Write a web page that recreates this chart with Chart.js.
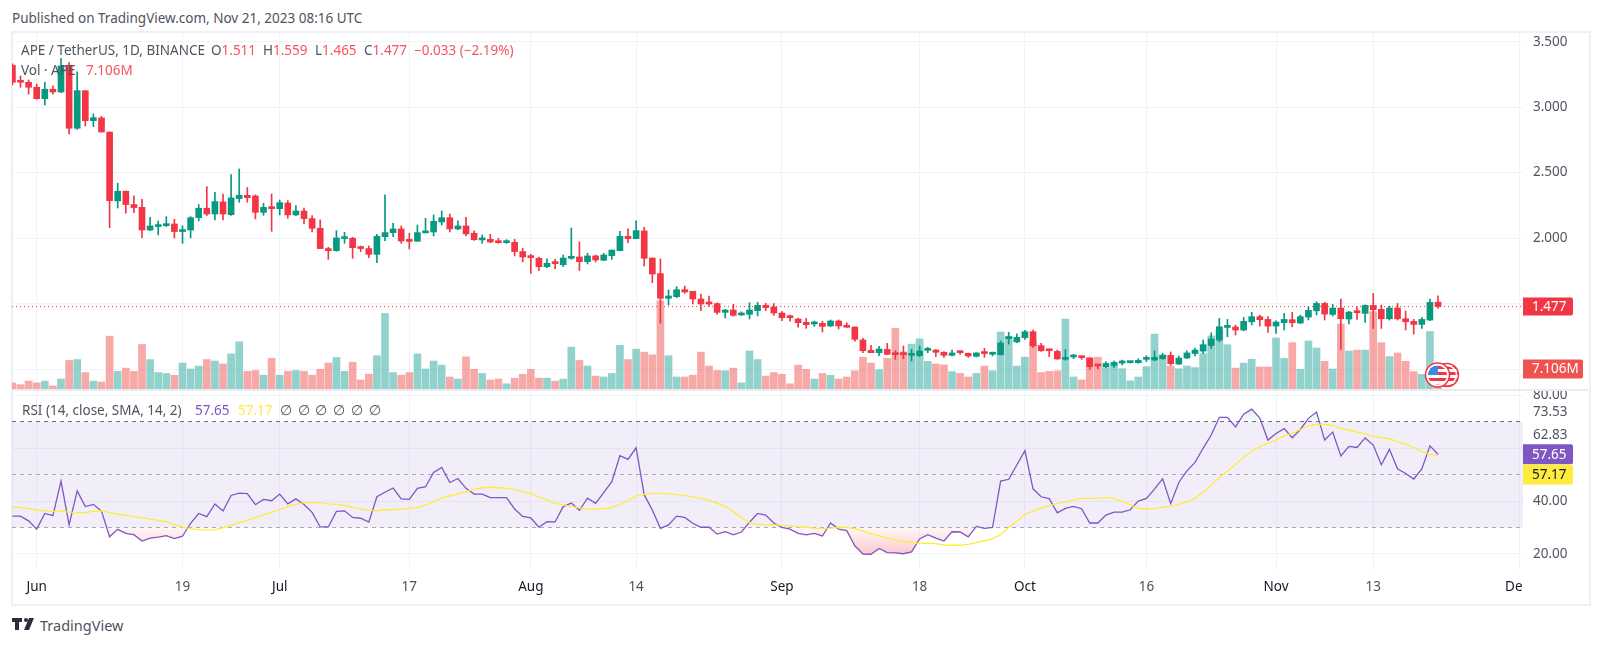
<!DOCTYPE html>
<html>
<head>
<meta charset="utf-8">
<title>APE / TetherUS</title>
<script src="https://cdn.jsdelivr.net/npm/chart.js@4/dist/chart.umd.min.js"></script>
<style>
    html, body { margin: 0; background: #fff; }
    body { position: relative; width: 1600px; height: 645px; overflow: hidden; font-family: "Noto Sans", sans-serif; font-size: 13.5px; color: #50535e; }
    canvas { position: absolute; left: 12px; }
    #frame { position: absolute; left: 11px; top: 31px; width: 1576px; height: 571px; border: 2px solid #eff0f6; }
    #divider { position: absolute; left: 12px; top: 389px; width: 1576px; height: 2px; background: #e9eaf2; }
    .t { position: absolute; white-space: nowrap; line-height: 16px; }
    .up { color: #f7525f; }
</style>
</head>
<body>
<div id="frame"></div>
<canvas id="priceChart" width="1576" height="358" style="top:32px"></canvas>
<canvas id="rsiChart" width="1576" height="213" style="top:390px"></canvas>
<div id="divider"></div>

<div class="t" style="left:12px;top:10px">Published on TradingView.com, Nov 21, 2023 08:16 UTC</div>

<div class="t" style="left:21px;top:42px">APE / TetherUS, 1D, BINANCE</div>
<div class="t" style="left:211px;top:42px">O<span class="up">1.511</span></div>
<div class="t" style="left:263px;top:42px">H<span class="up">1.559</span></div>
<div class="t" style="left:315px;top:42px">L<span class="up">1.465</span></div>
<div class="t" style="left:364px;top:42px">C<span class="up">1.477</span></div>
<div class="t up" style="left:414px;top:42px">−0.033 (−2.19%)</div>
<div class="t" style="left:21px;top:62px">Vol · APE</div>
<div class="t up" style="left:86px;top:62px">7.106M</div>

<div class="t" style="left:22px;top:402px">RSI (14, close, SMA, 14, 2)</div>
<div class="t" style="left:195px;top:402px;color:#7e57c2">57.65</div>
<div class="t" style="left:238px;top:402px;color:#ffeb3b">57.17</div>
<div class="t" style="left:280px;top:402px">∅</div>
<div class="t" style="left:298px;top:402px">∅</div>
<div class="t" style="left:315px;top:402px">∅</div>
<div class="t" style="left:333px;top:402px">∅</div>
<div class="t" style="left:351px;top:402px">∅</div>
<div class="t" style="left:369px;top:402px">∅</div>

<!-- currency flags sitting on the volume pane -->
<svg style="position:absolute;left:1420px;top:360px" width="42" height="30" viewBox="0 0 42 30">
    <defs>
        <pattern id="stripes" width="4" height="6" patternUnits="userSpaceOnUse">
            <rect width="4" height="3" fill="#f23645"></rect>
            <rect y="3" width="4" height="3" fill="#fff"></rect>
        </pattern>
    </defs>
    <circle cx="27" cy="15" r="11.5" fill="url(#stripes)" stroke="#f23645" stroke-width="1.5"></circle>
    <circle cx="27" cy="15" r="9.5" fill="none" stroke="#fff" stroke-width="1.5"></circle>
    <circle cx="17.5" cy="15" r="12" fill="#fff" stroke="#f23645" stroke-width="1.5"></circle>
    <clipPath id="flagClip"><circle cx="17.5" cy="15" r="9.5"></circle></clipPath>
    <g clip-path="url(#flagClip)">
        <rect x="7" y="5" width="21" height="20" fill="url(#stripes)"></rect>
        <rect x="8" y="5" width="10" height="10" fill="#3f87e5"></rect>
    </g>
</svg>

<svg style="position:absolute;left:12px;top:618px" width="24" height="13" viewBox="0 0 24 13">
    <path d="M0 0h10v4H7v8H3V4H0z" fill="#2a2e39"></path>
    <circle cx="14" cy="2" r="2" fill="#2a2e39"></circle>
    <path d="M17 0h5l-5 12h-5z" fill="#2a2e39"></path>
</svg>
<div class="t" style="left:40px;top:616px;font-size:14.5px;line-height:18px">TradingView</div>

<script>
// daily candles, first one is 29 May 2023, last one 21 Nov 2023
const opens = [
    3.32, 3.2, 3.19, 3.152, 3.065, 3.137, 3.116, 3.32, 2.839, 3.126,
    2.897, 2.918, 2.81, 2.284, 2.358, 2.256, 2.235, 2.062, 2.088, 2.095,
    2.108, 2.05, 2.062, 2.156, 2.228, 2.184, 2.276, 2.179, 2.302, 2.327,
    2.322, 2.197, 2.233, 2.225, 2.268, 2.177, 2.207, 2.149, 2.075, 1.92,
    1.904, 1.996, 1.999, 1.927, 1.92, 1.876, 2.011, 2.042, 2.07, 1.976,
    1.976, 2.04, 2.047, 2.123, 2.156, 2.07, 2.093, 2.037, 1.986, 1.991,
    1.973, 1.965, 1.968, 1.897, 1.856, 1.846, 1.782, 1.808, 1.797, 1.846,
    1.856, 1.82, 1.864, 1.831, 1.866, 1.904, 2.014, 1.996, 2.055, 1.848,
    1.729, 1.54, 1.553, 1.606, 1.594, 1.535, 1.5, 1.5, 1.433, 1.451,
    1.413, 1.418, 1.446, 1.487, 1.474, 1.428, 1.397, 1.382, 1.357, 1.344,
    1.349, 1.329, 1.367, 1.329, 1.321, 1.222, 1.143, 1.125, 1.15, 1.115,
    1.115, 1.105, 1.102, 1.143, 1.145, 1.128, 1.105, 1.133, 1.12, 1.097,
    1.123, 1.113, 1.11, 1.232, 1.207, 1.24, 1.285, 1.179, 1.145, 1.135,
    1.074, 1.092, 1.095, 1.082, 1.028, 1.018, 1.028, 1.046, 1.049, 1.049,
    1.074, 1.069, 1.079, 1.105, 1.038, 1.084, 1.119, 1.137, 1.18, 1.221,
    1.318, 1.321, 1.298, 1.361, 1.4, 1.379, 1.328, 1.354, 1.377, 1.351,
    1.397, 1.445, 1.501, 1.417, 1.466, 1.382, 1.435, 1.425, 1.486, 1.456,
    1.384, 1.466, 1.384, 1.364, 1.341, 1.374, 1.511
];
const highs = [
    3.33, 3.238, 3.208, 3.177, 3.19, 3.162, 3.373, 3.34, 3.27, 3.126,
    2.948, 2.93, 2.81, 2.419, 2.36, 2.322, 2.296, 2.159, 2.131, 2.164,
    2.144, 2.093, 2.164, 2.256, 2.393, 2.35, 2.337, 2.485, 2.528, 2.386,
    2.33, 2.266, 2.337, 2.291, 2.286, 2.248, 2.23, 2.172, 2.139, 1.93,
    2.057, 2.044, 2.006, 1.94, 1.94, 2.029, 2.33, 2.113, 2.093, 2.037,
    2.1, 2.151, 2.177, 2.207, 2.184, 2.131, 2.159, 2.055, 2.024, 2.029,
    1.999, 1.988, 1.991, 1.922, 1.876, 1.856, 1.841, 1.838, 1.871, 2.077,
    1.971, 1.884, 1.871, 1.884, 1.909, 2.052, 2.07, 2.131, 2.083, 1.848,
    1.841, 1.604, 1.629, 1.634, 1.594, 1.573, 1.558, 1.505, 1.455, 1.494,
    1.436, 1.507, 1.51, 1.502, 1.5, 1.438, 1.413, 1.39, 1.387, 1.367,
    1.364, 1.375, 1.375, 1.354, 1.321, 1.235, 1.181, 1.173, 1.196, 1.14,
    1.176, 1.15, 1.176, 1.166, 1.15, 1.133, 1.145, 1.14, 1.123, 1.125,
    1.158, 1.13, 1.214, 1.28, 1.268, 1.296, 1.298, 1.196, 1.15, 1.145,
    1.15, 1.112, 1.1, 1.087, 1.038, 1.056, 1.061, 1.069, 1.059, 1.079,
    1.102, 1.138, 1.12, 1.13, 1.1, 1.14, 1.161, 1.221, 1.277, 1.387,
    1.379, 1.336, 1.394, 1.433, 1.412, 1.4, 1.369, 1.425, 1.433, 1.412,
    1.476, 1.514, 1.51, 1.494, 1.534, 1.44, 1.476, 1.491, 1.578, 1.489,
    1.481, 1.501, 1.443, 1.379, 1.394, 1.534, 1.559
];
const lows = [
    3.17, 3.152, 3.1, 3.06, 3.017, 3.1, 3.11, 2.795, 2.83, 2.856,
    2.851, 2.81, 2.08, 2.23, 2.19, 2.195, 2.004, 2.057, 2.024, 2.088,
    2.001, 1.96, 2.001, 2.131, 2.172, 2.139, 2.139, 2.174, 2.274, 2.274,
    2.146, 2.174, 2.052, 2.177, 2.151, 2.172, 2.108, 2.047, 1.92, 1.838,
    1.9, 1.96, 1.846, 1.897, 1.85, 1.813, 1.981, 2.011, 1.96, 1.917,
    1.975, 2.04, 2.016, 2.1, 2.047, 2.065, 2.016, 1.983, 1.96, 1.965,
    1.96, 1.96, 1.864, 1.818, 1.731, 1.752, 1.774, 1.767, 1.782, 1.838,
    1.752, 1.802, 1.818, 1.828, 1.838, 1.904, 1.965, 1.996, 1.787, 1.66,
    1.349, 1.489, 1.545, 1.578, 1.497, 1.446, 1.481, 1.42, 1.39, 1.405,
    1.41, 1.382, 1.405, 1.446, 1.41, 1.37, 1.365, 1.319, 1.311, 1.326,
    1.283, 1.324, 1.306, 1.319, 1.212, 1.125, 1.125, 1.102, 1.11, 1.074,
    1.079, 1.061, 1.095, 1.125, 1.095, 1.089, 1.1, 1.112, 1.089, 1.092,
    1.089, 1.1, 1.107, 1.191, 1.201, 1.227, 1.166, 1.135, 1.095, 1.074,
    1.067, 1.079, 1.074, 0.998, 1.003, 1.01, 1.013, 1.031, 1.046, 1.044,
    1.056, 1.064, 1.074, 1.028, 1.033, 1.079, 1.1, 1.119, 1.158, 1.208,
    1.247, 1.26, 1.292, 1.336, 1.328, 1.28, 1.272, 1.298, 1.323, 1.349,
    1.374, 1.412, 1.374, 1.405, 1.15, 1.344, 1.379, 1.356, 1.31, 1.31,
    1.374, 1.374, 1.298, 1.267, 1.31, 1.37, 1.465
];
const closes = [
    3.19, 3.19, 3.152, 3.065, 3.137, 3.116, 3.315, 2.839, 3.126, 2.897,
    2.92, 2.81, 2.286, 2.358, 2.256, 2.233, 2.062, 2.093, 2.1, 2.108,
    2.05, 2.062, 2.156, 2.228, 2.184, 2.279, 2.184, 2.307, 2.327, 2.309,
    2.197, 2.235, 2.225, 2.271, 2.177, 2.207, 2.149, 2.075, 1.92, 1.904,
    2.001, 2.001, 1.927, 1.92, 1.876, 2.014, 2.042, 2.07, 1.978, 1.975,
    2.042, 2.047, 2.128, 2.156, 2.07, 2.093, 2.032, 1.988, 1.993, 1.97,
    1.965, 1.973, 1.897, 1.856, 1.851, 1.782, 1.808, 1.805, 1.848, 1.856,
    1.82, 1.864, 1.833, 1.871, 1.909, 2.014, 1.996, 2.057, 1.846, 1.726,
    1.54, 1.558, 1.606, 1.589, 1.535, 1.497, 1.497, 1.433, 1.451, 1.41,
    1.423, 1.451, 1.487, 1.469, 1.428, 1.392, 1.392, 1.354, 1.339, 1.349,
    1.326, 1.367, 1.329, 1.319, 1.227, 1.14, 1.125, 1.153, 1.112, 1.11,
    1.11, 1.11, 1.138, 1.15, 1.128, 1.105, 1.123, 1.125, 1.1, 1.123,
    1.118, 1.118, 1.199, 1.24, 1.242, 1.285, 1.176, 1.14, 1.14, 1.077,
    1.087, 1.097, 1.087, 1.018, 1.023, 1.043, 1.051, 1.051, 1.054, 1.066,
    1.079, 1.089, 1.105, 1.041, 1.084, 1.123, 1.145, 1.186, 1.229, 1.323,
    1.323, 1.298, 1.364, 1.4, 1.377, 1.328, 1.359, 1.379, 1.354, 1.4,
    1.448, 1.501, 1.42, 1.466, 1.384, 1.435, 1.43, 1.486, 1.453, 1.384,
    1.466, 1.384, 1.361, 1.341, 1.379, 1.509, 1.477
];
// volume in millions
const volumes = [
    2.4, 1.8, 3.0, 2.4, 3.0, 1.4, 3.7, 10.0, 10.3, 5.9,
    3.0, 2.7, 18.2, 6.3, 7.4, 6.3, 15.4, 10.3, 5.9, 5.6,
    5.0, 9.1, 7.1, 8.1, 10.3, 9.8, 8.8, 12.2, 16.3, 6.3,
    6.6, 5.0, 10.7, 5.0, 6.3, 6.6, 6.3, 5.0, 7.0, 9.1,
    11.0, 6.3, 9.4, 3.4, 5.4, 11.6, 25.9, 5.9, 5.0, 5.9,
    12.2, 7.1, 9.8, 8.4, 4.4, 3.7, 11.2, 7.0, 5.6, 3.4,
    3.7, 2.1, 4.0, 5.3, 7.0, 4.0, 4.0, 3.0, 3.7, 14.5,
    10.0, 8.1, 4.7, 4.4, 5.6, 15.1, 10.3, 13.8, 12.8, 11.9,
    30.2, 11.6, 4.4, 4.4, 5.0, 12.8, 8.1, 6.6, 6.5, 7.4,
    2.4, 13.2, 10.3, 4.7, 5.9, 5.3, 2.1, 8.4, 7.0, 3.7,
    5.6, 5.0, 3.7, 4.4, 6.5, 11.1, 9.1, 6.9, 10.7, 20.9,
    12.9, 15.5, 17.3, 9.7, 8.8, 8.5, 6.2, 5.6, 4.4, 5.6,
    8.1, 6.5, 19.6, 18.2, 8.1, 11.1, 16.5, 5.9, 6.3, 6.5,
    24.0, 4.4, 3.4, 11.1, 11.1, 7.6, 8.5, 7.2, 3.1, 4.4,
    7.9, 18.9, 11.9, 8.1, 7.2, 8.1, 7.6, 12.3, 18.3, 20.1,
    15.3, 7.4, 9.1, 10.4, 7.8, 7.8, 17.6, 10.7, 16.0, 7.0,
    16.6, 14.2, 9.7, 7.1, 22.3, 13.2, 13.5, 13.5, 26.5, 16.0,
    11.3, 12.5, 9.7, 6.2, 5.3, 19.8, 7.106
];
const rsiValues = [
    34.3, 34.3, 32.5, 29.4, 35.3, 34.5, 47.5, 31.0, 43.8, 37.9,
    38.7, 36.2, 26.5, 29.3, 27.8, 27.3, 24.9, 26.0, 26.4, 26.9,
    25.8, 26.7, 31.6, 35.3, 34.1, 38.9, 36.2, 42.1, 43.0, 42.8,
    38.6, 40.6, 40.1, 42.6, 38.9, 40.8, 38.7, 35.7, 30.2, 30.2,
    36.1, 36.3, 33.8, 33.5, 32.0, 41.6, 43.3, 44.9, 40.8, 40.6,
    44.8, 45.4, 50.8, 52.7, 47.0, 48.5, 44.8, 42.6, 42.6, 41.3,
    41.3, 41.3, 37.0, 34.2, 33.6, 30.1, 32.2, 32.1, 37.9, 39.2,
    36.5, 41.1, 39.1, 43.2, 47.3, 57.1, 55.7, 60.1, 42.3, 36.6,
    29.7, 31.0, 34.3, 33.8, 31.6, 30.1, 30.1, 27.5, 28.4, 27.2,
    28.3, 32.0, 35.3, 34.7, 31.7, 30.0, 29.4, 27.8, 27.2, 27.8,
    26.8, 31.7, 29.4, 28.8, 23.1, 20.0, 19.9, 22.1, 20.5, 20.4,
    20.1, 20.8, 25.7, 27.3, 26.0, 24.9, 28.4, 28.3, 26.5, 30.4,
    29.7, 30.0, 47.5, 48.2, 53.6, 59.0, 44.6, 41.6, 40.9, 35.5,
    37.2, 38.0, 37.1, 31.7, 31.7, 34.7, 35.8, 35.8, 36.7, 40.0,
    41.0, 44.5, 48.4, 39.0, 47.0, 51.4, 54.6, 59.9, 64.9, 71.6,
    71.6, 68.0, 72.8, 74.7, 71.3, 63.0, 65.5, 67.3, 63.9, 67.0,
    71.2, 73.6, 63.0, 66.0, 57.0, 60.6, 60.2, 63.8, 61.1, 53.7,
    59.5, 52.2, 50.4, 48.3, 52.1, 60.8, 57.65
];
const rsiMaValues = [
    37.9, 37.5, 37.1, 36.6, 36.3, 36.0, 36.3, 35.8, 35.6, 35.6,
    36.1, 36.3, 35.6, 35.0, 34.6, 34.1, 33.6, 33.2, 32.7, 32.2,
    31.0, 30.1, 29.6, 29.2, 29.0, 29.1, 30.0, 30.8, 31.8, 32.8,
    33.7, 34.7, 35.7, 36.8, 37.9, 38.7, 39.4, 39.5, 39.4, 38.9,
    38.7, 38.4, 37.6, 37.0, 36.5, 36.3, 36.7, 36.8, 37.0, 37.1,
    37.6, 38.4, 39.7, 41.1, 41.9, 42.6, 43.5, 44.3, 45.0, 45.2,
    45.0, 44.8, 44.3, 43.6, 42.8, 41.5, 40.4, 39.1, 38.5, 38.0,
    37.4, 37.0, 36.9, 37.0, 37.6, 38.7, 40.1, 41.9, 42.5, 42.9,
    42.9, 42.8, 42.4, 42.1, 41.6, 40.9, 40.3, 39.1, 38.0, 36.0,
    33.8, 31.8, 31.2, 31.0, 31.0, 30.8, 30.6, 30.2, 30.1, 29.8,
    29.7, 29.8, 30.0, 30.0, 29.6, 28.7, 27.7, 26.8, 26.0, 25.4,
    24.8, 24.3, 24.0, 24.0, 23.9, 23.4, 23.3, 23.3, 23.6, 24.3,
    25.0, 25.7, 27.3, 30.0, 32.4, 35.0, 36.2, 37.4, 38.2, 39.1,
    39.6, 40.4, 41.0, 41.0, 41.0, 41.4, 40.9, 39.9, 38.6, 37.2,
    36.9, 37.1, 37.6, 38.0, 38.7, 39.7, 41.0, 43.3, 46.0, 48.8,
    51.3, 53.8, 56.5, 58.9, 60.5, 61.8, 62.9, 64.6, 65.5, 67.0,
    68.4, 69.0, 68.9, 68.5, 67.4, 66.8, 66.0, 65.3, 64.4, 63.9,
    63.5, 62.4, 61.5, 60.2, 58.7, 57.7, 57.17
];

const priceTicks = [3.5, 3, 2.5, 2, 1.5, 1];
const hiddenPriceLabels = [1.5, 1];
const rsiTicks = [80, 73.53, 62.83, 60, 40, 20];
const rsiBands = [70, 50, 30];
// position in the candle list of each date label
const dateTicks = [3, 21, 33, 49, 64, 77, 95, 112, 125, 140, 156, 168, 186];
const dateLabels = ['Jun', '19', 'Jul', '17', 'Aug', '14', 'Sep', '18', 'Oct', '16', 'Nov', '13', 'De   '];

const lastPrice = 1.477;
const lastVolume = 7.106;
const lastRsi = 57.65;
const lastRsiMa = 57.17;

const green = '#089981';
const red = '#f23645';
const gridColor = '#f0f3fa';
const textColor = '#50535e';
const axisFont = { family: '"Noto Sans", sans-serif', size: 13.5 };
const tagFont = '13.5px "Noto Sans", sans-serif';
const xMin = -0.05;
const xMax = 186.49;

const isUp = opens.map((o, i) => closes[i] >= o);

// chart.js reserves room for half a label at the ends of each axis, we want the plot edge to edge
function dropPadding(scale) {
    scale.paddingTop = 0;
    scale.paddingBottom = 0;
    scale.paddingLeft = 0;
    scale.paddingRight = 0;
}

function xScale(showLabels) {
    return {
        type: 'linear',
        offset: false,
        min: xMin,
        max: xMax,
        afterBuildTicks: function(scale) {
            scale.ticks = dateTicks.map(v => ({ value: v }));
        },
        afterFit: function(scale) {
            scale.height = showLabels ? 33 : 0;
            dropPadding(scale);
        },
        border: { display: false },
        grid: { color: gridColor, drawTicks: false, offset: false },
        ticks: {
            display: showLabels,
            maxRotation: 0,
            autoSkip: false,
            includeBounds: false,
            padding: 9,
            font: axisFont,
            color: function(ctx) {
                return /^\d/.test(dateLabels[ctx.index]) ? textColor : '#131722';
            },
            callback: function(value, index) {
                return dateLabels[index];
            }
        }
    };
}

function drawTag(ctx, x, y, w, h, fill, color, text) {
    ctx.save();
    ctx.fillStyle = fill;
    ctx.beginPath();
    ctx.roundRect(x, y - h / 2, w, h, [0, 2, 2, 0]);
    ctx.fill();
    ctx.fillStyle = color;
    ctx.font = tagFont;
    ctx.textBaseline = 'middle';
    ctx.textAlign = 'left';
    ctx.fillText(text, x + 9, y + 0.5);
    ctx.restore();
}

const priceExtras = {
    id: 'priceExtras',
    afterDatasetsDraw: function(chart) {
        const ctx = chart.ctx;
        const area = chart.chartArea;
        const y = chart.scales.y.getPixelForValue(lastPrice);
        ctx.save();
        ctx.strokeStyle = red;
        ctx.lineWidth = 1;
        ctx.setLineDash([1, 3]);
        ctx.beginPath();
        ctx.moveTo(area.left, y);
        ctx.lineTo(area.right, y);
        ctx.stroke();
        ctx.restore();
    },
    afterDraw: function(chart) {
        const ctx = chart.ctx;
        const right = chart.chartArea.right;
        drawTag(ctx, right, chart.scales.y.getPixelForValue(lastPrice), 50, 18, red, '#fff', lastPrice.toFixed(3));
        drawTag(ctx, right, chart.scales.vol.getPixelForValue(lastVolume), 60, 19, '#ef5350', '#fff', lastVolume.toFixed(3) + 'M');
    }
};

const rsiExtras = {
    id: 'rsiExtras',
    beforeDatasetsDraw: function(chart) {
        const ctx = chart.ctx;
        const area = chart.chartArea;
        const y = chart.scales.y;
        ctx.save();
        ctx.fillStyle = 'rgba(126, 87, 194, 0.1)';
        ctx.fillRect(area.left, y.getPixelForValue(rsiBands[0]), area.width, y.getPixelForValue(rsiBands[2]) - y.getPixelForValue(rsiBands[0]));
        ctx.setLineDash([4, 4]);
        ctx.lineWidth = 1;
        rsiBands.forEach(function(band, i) {
            ctx.strokeStyle = i === 0 ? '#6b6e79' : '#a9abb3';
            ctx.beginPath();
            ctx.moveTo(area.left, y.getPixelForValue(band));
            ctx.lineTo(area.right, y.getPixelForValue(band));
            ctx.stroke();
        });
        ctx.restore();
    },
    afterDraw: function(chart) {
        const ctx = chart.ctx;
        const right = chart.chartArea.right;
        const y = chart.scales.y;
        // these labels get pushed off their value so they don't overlap
        ctx.save();
        ctx.fillStyle = textColor;
        ctx.font = tagFont;
        ctx.textBaseline = 'middle';
        ctx.fillText('62.83', right + 10, y.getPixelForValue(62.83) - 5);
        ctx.restore();
        drawTag(ctx, right, y.getPixelForValue(lastRsi), 50, 20, '#7e57c2', '#fff', lastRsi.toFixed(2));
        drawTag(ctx, right, y.getPixelForValue(lastRsiMa) + 19, 50, 20, '#ffeb3b', '#131722', lastRsiMa.toFixed(2));
    }
};

new Chart(document.getElementById('priceChart').getContext('2d'), {
    type: 'bar',
    data: {
        datasets: [
            {
                label: 'Wick',
                data: highs.map((h, i) => ({ x: i, y: [lows[i], h] })),
                backgroundColor: isUp.map(up => up ? green : red),
                barThickness: 1,
                grouped: false,
                order: 2,
                yAxisID: 'y'
            },
            {
                label: 'Body',
                data: opens.map((o, i) => ({ x: i, y: [o, closes[i]] })),
                backgroundColor: isUp.map(up => up ? green : red),
                barThickness: 6,
                minBarLength: 2,
                grouped: false,
                order: 1,
                yAxisID: 'y'
            },
            {
                label: 'Volume',
                data: volumes.map((v, i) => ({ x: i, y: v })),
                backgroundColor: isUp.map(up => up ? 'rgba(38, 166, 154, 0.5)' : 'rgba(239, 83, 80, 0.5)'),
                barThickness: 7,
                grouped: false,
                order: 3,
                yAxisID: 'vol'
            }
        ]
    },
    options: {
        responsive: false,
        animation: false,
        layout: { padding: 0 },
        plugins: { legend: { display: false }, tooltip: { enabled: false } },
        scales: {
            x: xScale(false),
            y: {
                position: 'right',
                min: 0.84,
                max: 3.574,
                afterBuildTicks: function(scale) {
                    scale.ticks = priceTicks.map(v => ({ value: v }));
                },
                afterFit: function(scale) {
                    scale.width = 65;
                    dropPadding(scale);
                },
                border: { display: false },
                grid: { color: gridColor, drawTicks: false },
                ticks: {
                    padding: 10,
                    font: axisFont,
                    color: textColor,
                    callback: function(value) {
                        return hiddenPriceLabels.includes(value) ? '' : value.toFixed(3);
                    }
                }
            },
            vol: { display: false, min: 0, max: 121.1 }
        }
    },
    plugins: [priceExtras]
});

const rsiCtx = document.getElementById('rsiChart').getContext('2d');
// the oversold / overbought fills fade out towards the 30 and 70 lines
const belowFill = rsiCtx.createLinearGradient(0, 137, 0, 170);
belowFill.addColorStop(0, 'rgba(242, 54, 69, 0.03)');
belowFill.addColorStop(1, 'rgba(242, 54, 69, 0.32)');
const aboveFill = rsiCtx.createLinearGradient(0, 31, 0, 14);
aboveFill.addColorStop(0, 'rgba(8, 153, 129, 0.02)');
aboveFill.addColorStop(1, 'rgba(8, 153, 129, 0.25)');

new Chart(rsiCtx, {
    type: 'line',
    data: {
        datasets: [
            {
                label: 'RSI-based MA',
                data: rsiMaValues.map((v, i) => ({ x: i, y: v })),
                borderColor: '#ffeb3b',
                borderWidth: 1.3,
                pointRadius: 0,
                order: 1
            },
            {
                label: 'RSI',
                data: rsiValues.map((v, i) => ({ x: i, y: v })),
                borderColor: '#7e57c2',
                borderWidth: 1.3,
                pointRadius: 0,
                fill: { target: { value: rsiBands[2] }, above: 'transparent', below: belowFill },
                order: 2
            },
            {
                label: 'RSI overbought',
                data: rsiValues.map((v, i) => ({ x: i, y: v })),
                borderWidth: 0,
                pointRadius: 0,
                fill: { target: { value: rsiBands[0] }, above: aboveFill, below: 'transparent' },
                order: 3
            }
        ]
    },
    options: {
        responsive: false,
        animation: false,
        layout: { padding: 0 },
        plugins: { legend: { display: false }, tooltip: { enabled: false } },
        scales: {
            x: xScale(true),
            y: {
                position: 'right',
                min: 13.96,
                max: 81.9,
                afterBuildTicks: function(scale) {
                    scale.ticks = rsiTicks.map(v => ({ value: v }));
                },
                afterFit: function(scale) {
                    scale.width = 65;
                    dropPadding(scale);
                },
                border: { display: false },
                grid: {
                    drawTicks: false,
                    color: function(ctx) {
                        return ctx.tick && ctx.tick.value % 20 === 0 ? gridColor : 'transparent';
                    }
                },
                ticks: {
                    padding: 10,
                    font: axisFont,
                    color: textColor,
                    callback: function(value) {
                        return value === 60 || value === 62.83 ? '' : value.toFixed(2);
                    }
                }
            }
        }
    },
    plugins: [rsiExtras]
});
</script>
</body>
</html>
